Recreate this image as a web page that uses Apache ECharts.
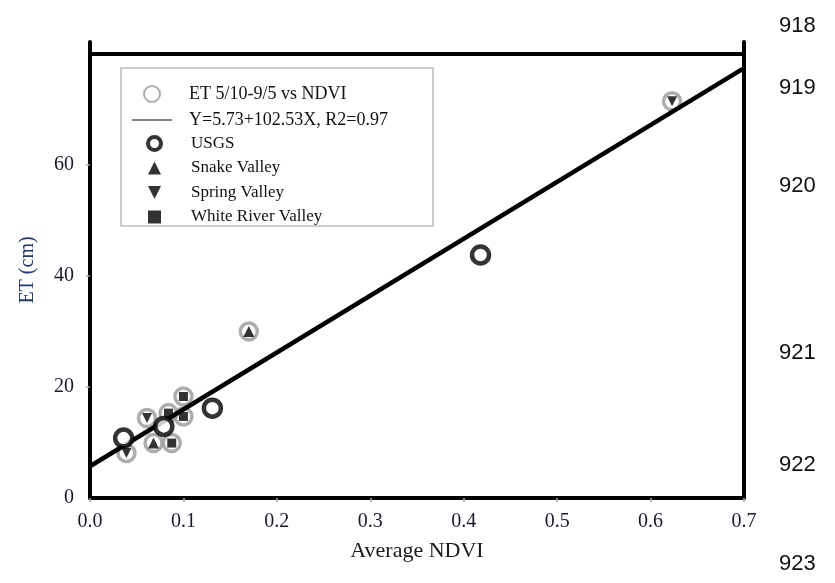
<!DOCTYPE html>
<html>
<head>
<meta charset="utf-8">
<script src="https://cdn.jsdelivr.net/npm/echarts@6/dist/echarts.min.js"></script>
<style>
  html, body { margin: 0; padding: 0; background: #fff; }
  #chart { width: 835px; height: 583px; }
</style>
</head>
<body>
<div id="chart"></div>
<script>
// values
const snakeX = [0.068, 0.170]
const snakeY = [9.9, 30.0]
const springX = [0.039, 0.061, 0.623]
const springY = [8.1, 14.4, 71.5]
const whiteX = [0.084, 0.0875, 0.100, 0.100]
const whiteY = [15.3, 9.9, 14.7, 18.3]
const usgsX = [0.036, 0.079, 0.131, 0.418]
const usgsY = [10.8, 12.9, 16.2, 43.8]
// fitted line ends, Y=5.73+102.53X
const fitX = [0, 0.7]
const fitY = [5.73, 77.5]

const yLabels = [0, 20, 40, 60]
const yTicks = [20, 40, 60]
const frameTop = 80
const lineNumbers = ['918', '919', '920', '921', '922', '923']
const lineNumberY = [28, 90, 188, 355, 467, 566]

const serif = 'Liberation Serif'
const downTriangle = 'path://M0,0L10,0L5,10Z'
const pairs = (xs, ys) => xs.map((x, i) => [x, ys[i]])

const allX = snakeX.concat(springX, whiteX)
const allY = snakeY.concat(springY, whiteY)

const chart = echarts.init(document.getElementById('chart'))

chart.setOption({
  animation: false,
  backgroundColor: '#fff',
  grid: { left: 90, right: 91, top: 42, bottom: 85 },
  legend: [
    {
      orient: 'vertical',
      left: 131,
      top: 85,
      padding: 0,
      itemWidth: 40,
      itemHeight: 16,
      itemGap: 8,
      selectedMode: false,
      textStyle: { fontFamily: serif, fontSize: 18, color: '#111', padding: [0, 0, 0, 12] },
      data: [
        { name: 'ET 5/10-9/5 vs NDVI' },
        {
          name: 'Y=5.73+102.53X, R2=0.97',
          itemStyle: { opacity: 0 },
          lineStyle: { color: '#8a8a8a', width: 2 }
        }
      ]
    },
    {
      orient: 'vertical',
      left: 146,
      top: 135,
      padding: 0,
      itemWidth: 13,
      itemHeight: 13,
      itemGap: 7.5,
      selectedMode: false,
      textStyle: { fontFamily: serif, fontSize: 17, color: '#111', padding: [0, 0, 0, 25] },
      data: [
        { name: 'USGS', itemStyle: { color: '#fff', borderColor: '#000', borderWidth: 4 } },
        { name: 'Snake Valley', icon: 'triangle', itemStyle: { color: '#000' } },
        { name: 'Spring Valley', icon: downTriangle, itemStyle: { color: '#000' } },
        { name: 'White River Valley', icon: 'rect', itemStyle: { color: '#000' } }
      ]
    }
  ],
  graphic: [
    {
      type: 'rect',
      shape: { x: 121, y: 68, width: 312, height: 158 },
      style: { fill: 'none', stroke: '#bdbdbd', lineWidth: 1.5 },
      z: 1
    }
  ].concat(lineNumbers.map((t, i) => ({
    type: 'text',
    left: 779,
    top: lineNumberY[i] - 13,
    style: { text: t, fontFamily: 'Liberation Sans', fontSize: 22, fill: '#111' }
  }))),
  xAxis: {
    type: 'value',
    min: 0,
    max: 0.7,
    interval: 0.1,
    name: 'Average NDVI',
    nameLocation: 'middle',
    nameGap: 42,
    nameTextStyle: { fontFamily: serif, fontSize: 22, color: '#1a1a1a' },
    axisLine: { lineStyle: { color: '#000', width: 4 } },
    axisTick: { show: true, length: 4, lineStyle: { color: '#aaa', width: 1.5 } },
    axisLabel: {
      margin: 14,
      fontFamily: serif,
      fontSize: 20,
      color: '#1a1a2a',
      formatter: v => v.toFixed(1)
    },
    splitLine: { show: false }
  },
  yAxis: [
    {
      type: 'value',
      min: 0,
      max: 82.2,
      interval: 20,
      name: 'ET (cm)',
      nameLocation: 'middle',
      nameRotate: 90,
      nameGap: 52,
      nameTextStyle: { fontFamily: serif, fontSize: 20, color: '#22386a' },
      axisLine: { show: true, lineStyle: { color: '#000', width: 4 } },
      axisTick: { show: true, length: 4, customValues: yTicks, lineStyle: { color: '#aaa', width: 1.5 } },
      axisLabel: {
        margin: 16,
        fontFamily: serif,
        fontSize: 20,
        color: '#1a1a2a',
        customValues: yLabels
      },
      splitLine: { show: false }
    },
    {
      type: 'value',
      position: 'right',
      min: 0,
      max: 82.2,
      axisLine: { show: true, lineStyle: { color: '#000', width: 4 } },
      axisTick: { show: false },
      axisLabel: { show: false },
      splitLine: { show: false }
    }
  ],
  series: [
    {
      name: 'ET 5/10-9/5 vs NDVI',
      type: 'scatter',
      symbol: 'circle',
      symbolSize: 17,
      itemStyle: { color: 'transparent', borderColor: '#999', borderWidth: 3.5 },
      data: pairs(allX, allY),
      z: 2
    },
    {
      name: 'Snake Valley',
      type: 'scatter',
      symbol: 'triangle',
      symbolSize: 11,
      itemStyle: { color: '#000' },
      data: pairs(snakeX, snakeY),
      z: 3
    },
    {
      name: 'Spring Valley',
      type: 'scatter',
      symbol: downTriangle,
      symbolSize: 10,
      itemStyle: { color: '#000' },
      data: pairs(springX, springY),
      z: 3
    },
    {
      name: 'White River Valley',
      type: 'scatter',
      symbol: 'rect',
      symbolSize: 9,
      itemStyle: { color: '#000' },
      data: pairs(whiteX, whiteY),
      z: 3
    },
    {
      name: 'Y=5.73+102.53X, R2=0.97',
      type: 'line',
      symbol: 'none',
      itemStyle: { color: '#8a8a8a' },
      lineStyle: { color: '#000', width: 4.5 },
      data: pairs(fitX, fitY),
      markLine: {
        silent: true,
        symbol: 'none',
        label: { show: false },
        lineStyle: { color: '#000', width: 4, type: 'solid' },
        data: [{ yAxis: frameTop }]
      },
      z: 4
    },
    {
      name: 'USGS',
      type: 'scatter',
      symbol: 'circle',
      symbolSize: 17,
      itemStyle: { color: '#fff', borderColor: '#000', borderWidth: 4.5 },
      data: pairs(usgsX, usgsY),
      z: 5
    }
  ]
})
</script>
</body>
</html>
